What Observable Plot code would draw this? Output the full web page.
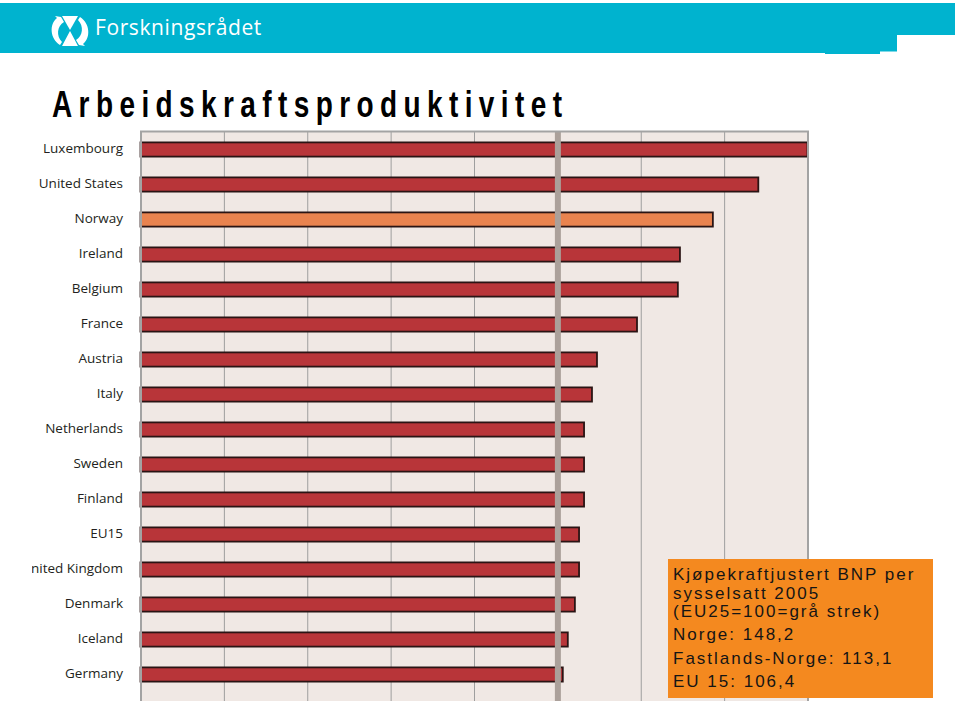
<!DOCTYPE html>
<html>
<head>
<meta charset="utf-8">
<script src="https://cdn.jsdelivr.net/npm/d3@7"></script>
<script src="https://cdn.jsdelivr.net/npm/@observablehq/plot@0.6"></script>
<style>
  html, body { margin: 0; padding: 0; background: #ffffff; }
  body { width: 960px; height: 705px; position: relative; overflow: hidden; }
  #chartwrap { position: absolute; left: 32px; top: 0; width: 928px; height: 701px; overflow: hidden; z-index: 1; }
  #deco { position: absolute; left: 0; top: 0; z-index: 2; pointer-events: none; }
</style>
</head>
<body>
<div id="chartwrap"></div>
<svg id="deco" width="960" height="705" xmlns="http://www.w3.org/2000/svg">
  <!-- header banner -->
  <path d="M0,3 H955 V35 H897 V51.5 H880 V54 H825 V53 H0 Z" fill="#00B3CF"/>
  <!-- logo icon -->
  <g fill="#ffffff">
    <path d="M62,16 L78,16 L70,30 Z"/>
    <path d="M70,31 L78,46 L62,46 Z"/>
    <path d="M61,17 L64,22 C57,26 56,36 62,42 L60,45 C50,39 49,24 57,18 L55,16 Z"/>
    <path d="M79,45 L76,40 C83,36 84,26 78,20 L80,17 C90,23 91,38 83,44 L85,46 Z"/>
  </g>
  <text x="95" y="34.5" fill="#ffffff" font-family="'Open Sans', 'Noto Sans', sans-serif" font-size="21" letter-spacing="0.6">Forskningsrådet</text>
  <!-- title -->
  <text transform="translate(52,117) scale(1,1.3)" font-family="'Liberation Sans', Arial, sans-serif" font-weight="700" font-size="28" letter-spacing="6.4" fill="#000000">Arbeidskraftsproduktivitet</text>
  <!-- note box -->
  <rect x="668" y="559" width="265" height="139" fill="#F4891F"/>
  <g font-family="'Liberation Sans', Arial, sans-serif" font-size="17" letter-spacing="2" fill="#151515">
    <text x="673" y="580">Kjøpekraftjustert BNP per</text>
    <text x="673" y="598.5">sysselsatt 2005</text>
    <text x="673" y="617">(EU25=100=grå strek)</text>
    <text x="673" y="640">Norge: 148,2</text>
    <text x="673" y="663.5">Fastlands-Norge: 113,1</text>
    <text x="673" y="687">EU 15: 106,4</text>
  </g>
</svg>
<script>
// ---- data ----
const countries = ["Luxembourg", "United States", "Norway", "Ireland", "Belgium", "France", "Austria", "Italy", "Netherlands", "Sweden", "Finland", "EU15", "United Kingdom", "Denmark", "Iceland", "Germany"];
const productivity = [160, 148.2, 137.3, 129.4, 128.9, 119.1, 109.5, 108.3, 106.4, 106.4, 106.4, 105.2, 105.2, 104.2, 102.5, 101.3];
const highlightCountry = "Norway";
const eu25Level = [100];
const gridTicks = [20, 40, 60, 80, 100, 120, 140];
const xDomain = [0, 160];

const rows = countries.map((c, i) => ({country: c, value: productivity[i]}));

const chart = Plot.plot({
  width: 960,
  height: 712,
  marginLeft: 140.5,
  marginRight: 152.5,
  marginTop: 131,
  marginBottom: 0,
  x: {domain: xDomain, axis: null},
  y: {type: "band", domain: countries, range: [131.4, 693.5], padding: 0},
  color: {type: "identity"},
  style: {background: "transparent", fontFamily: "'Open Sans', 'Noto Sans', sans-serif", fontSize: "13.5px", color: "#231f20"},
  marks: [
    Plot.frame({fill: "#F0E8E4", stroke: "none"}),
    Plot.ruleX(gridTicks, {stroke: "#9E9E9E", strokeWidth: 1}),
    Plot.barX(rows, {
      x: "value", y: "country",
      fill: d => d.country === highlightCountry ? "#E9834F" : "#B83539",
      stroke: "#2a1414", strokeWidth: 1.8,
      insetTop: 10.4, insetBottom: 10.4
    }),
    Plot.ruleX(eu25Level, {stroke: "#ABA09A", strokeWidth: 6}),
    Plot.frame({stroke: "#A3A3A3", strokeWidth: 2}),
    Plot.axisY({tickSize: 0, tickPadding: 18, label: null, fontSize: 13.5, dy: -1.5})
  ]
});
chart.style.maxWidth = "none";
chart.style.marginLeft = "-32px";
chart.style.display = "block";
document.getElementById("chartwrap").appendChild(chart);
</script>
</body>
</html>
